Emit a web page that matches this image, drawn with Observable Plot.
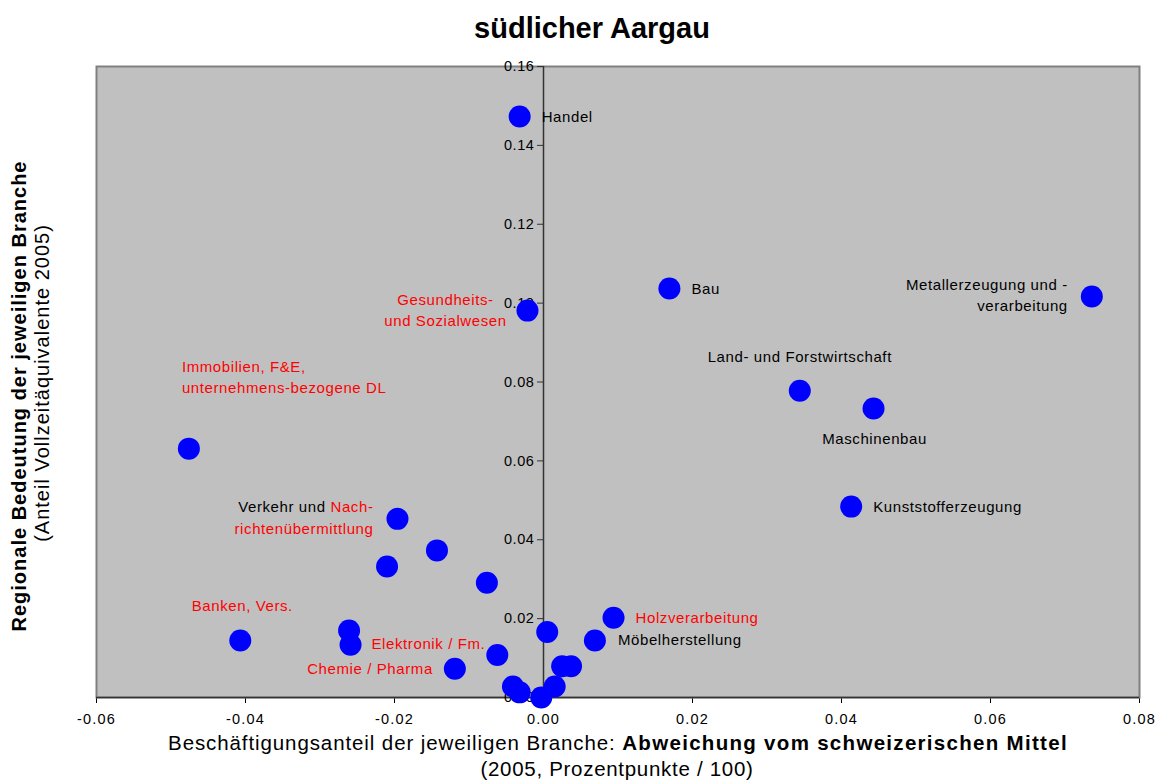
<!DOCTYPE html>
<html>
<head>
<meta charset="utf-8">
<script src="https://cdn.jsdelivr.net/npm/d3@7"></script>
<script src="https://cdn.jsdelivr.net/npm/@observablehq/plot@0.6"></script>
<style>
  body { margin: 0; background: #fff; font-family: "Liberation Sans", Arial, sans-serif; }
  #wrap { position: relative; width: 1163px; height: 781px; overflow: hidden; }
  #chart { position: absolute; left: 0; top: 0; }
  .t { position: absolute; white-space: nowrap; color: #000; transform: translate(-50%, -50%); }
  .rot { transform: translate(-50%, -50%) rotate(-90deg); }
</style>
</head>
<body>
<div id="wrap">
  <div id="chart"></div>
  <div class="t" style="left:592px; top:28px; font-size:29px; font-weight:bold;">südlicher Aargau</div>
  <div class="t" style="left:618px; top:743px; font-size:20.5px; letter-spacing:0.9px;">Beschäftigungsanteil der jeweiligen Branche: <b style="letter-spacing:1.3px">Abweichung vom schweizerischen Mittel</b></div>
  <div class="t" style="left:617px; top:769px; font-size:20.5px; letter-spacing:0.7px;">(2005, Prozentpunkte / 100)</div>
  <div class="t rot" style="left:19px; top:396px; font-size:20px; font-weight:bold; letter-spacing:1px;">Regionale Bedeutung der jeweiligen Branche</div>
  <div class="t rot" style="left:42px; top:383px; font-size:20px; letter-spacing:1px;">(Anteil Vollzeitäquivalente 2005)</div>
</div>
<script>
// ---- data ----
const branchen = [
  "Handel", "Gesundheits- und Sozialwesen", "Bau", "Metallerzeugung und -verarbeitung",
  "Land- und Forstwirtschaft", "Maschinenbau", "Kunststofferzeugung",
  "Immobilien, F&E, unternehmensbezogene DL", "Verkehr und Nachrichtenübermittlung",
  "B10", "B11", "B12", "Banken, Vers.", "B14", "B15", "Chemie / Pharma", "Elektronik / Fm.",
  "B18", "B19", "B20", "B21", "B22", "B23", "B24", "Möbelherstellung", "Holzverarbeitung"
];
const abweichung = [
  -0.0032, -0.00215, 0.0169, 0.0736,
  0.0344, 0.0443, 0.0413,
  -0.0476, -0.0196,
  -0.0143, -0.0210, -0.0076, -0.0407, -0.0261, -0.0259, -0.0119, -0.0062,
  -0.0041, -0.0032, -0.0003, 0.0005, 0.0015, 0.0025, 0.0037, 0.0069, 0.0094
];
const bedeutung = [
  0.1473, 0.0981, 0.1037, 0.1017,
  0.0778, 0.0733, 0.0484,
  0.0631, 0.0453,
  0.0373, 0.0332, 0.0291, 0.01445, 0.0170, 0.01336, 0.0073, 0.0108,
  0.0028, 0.0013, 0.0000, 0.0166, 0.0028, 0.0079, 0.0079, 0.01445, 0.0202
];
const xTicks = [-0.06, -0.04, -0.02, 0, 0.02, 0.04, 0.06, 0.08];
const yTicks = [0, 0.02, 0.04, 0.06, 0.08, 0.10, 0.12, 0.14, 0.16];

// label texts and colours (red = highlighted branches)
const labelTexts = [
  ["Handel", "Handel", "black"],
  ["Gesundheits- und Sozialwesen", "Gesundheits-\nund Sozialwesen", "red"],
  ["Bau", "Bau", "black"],
  ["Metallerzeugung und -verarbeitung", "Metallerzeugung und -\nverarbeitung", "black"],
  ["Land- und Forstwirtschaft", "Land- und Forstwirtschaft", "black"],
  ["Maschinenbau", "Maschinenbau", "black"],
  ["Kunststofferzeugung", "Kunststofferzeugung", "black"],
  ["Immobilien, F&E, unternehmensbezogene DL", "Immobilien, F&E,\nunternehmens-bezogene DL", "red"],
  ["Verkehr und Nachrichtenübermittlung", "Verkehr und Nach-\nrichtenübermittlung", "red"],
  ["Banken, Vers.", "Banken, Vers.", "red"],
  ["Elektronik / Fm.", "Elektronik / Fm.", "red"],
  ["Chemie / Pharma", "Chemie / Pharma", "red"],
  ["Holzverarbeitung", "Holzverarbeitung", "red"],
  ["Möbelherstellung", "Möbelherstellung", "black"]
];
// label placement relative to its point (pixels)
const labelPlacement = {
  "Handel": ["start", 22, -2],
  "Gesundheits- und Sozialwesen": ["middle", -82, -2],
  "Bau": ["start", 22, -2],
  "Metallerzeugung und -verarbeitung": ["end", -24, -3],
  "Land- und Forstwirtschaft": ["middle", 0, -36],
  "Maschinenbau": ["middle", 1, 29],
  "Kunststofferzeugung": ["start", 22, -2],
  "Immobilien, F&E, unternehmensbezogene DL": ["start", -7, -73],
  "Verkehr und Nachrichtenübermittlung": ["end", -24, -3],
  "Banken, Vers.": ["middle", 2, -36],
  "Elektronik / Fm.": ["end", -12, -13],
  "Chemie / Pharma": ["end", -22, -2],
  "Holzverarbeitung": ["start", 22, -2],
  "Möbelherstellung": ["start", 23, -2]
};

const points = branchen.map((b, i) => ({branche: b, x: abweichung[i], y: bedeutung[i]}));
const byName = new Map(points.map(p => [p.branche, p]));

const labelMarks = labelTexts.map(([name, text, color]) => {
  const [anchor, dx, dy] = labelPlacement[name];
  return Plot.text([byName.get(name)], {
    x: "x", y: "y", text: () => text,
    fill: color === "red" ? "#ff0000" : "#000000",
    textAnchor: anchor, dx, dy,
    fontSize: 15, lineHeight: 1.45, lineAnchor: "middle"
  });
});

const chart = Plot.plot({
  width: 1163,
  height: 781,
  marginLeft: 96,
  marginRight: 24,
  marginTop: 66,
  marginBottom: 84,
  style: {fontFamily: "'Liberation Sans', Arial, sans-serif", fontSize: "14.5px", background: "transparent", color: "#000"},
  x: {domain: [-0.06, 0.08], ticks: xTicks, tickFormat: d => d.toFixed(2), tickSize: 6, tickPadding: 10, label: null},
  y: {domain: [0, 0.16], axis: null},
  marks: [
    Plot.frame({fill: "#c0c0c0", stroke: "#808080", strokeWidth: 2}),
    Plot.ruleY([0], {stroke: "#333", strokeWidth: 1.5}),
    Plot.ruleX([0], {stroke: "#333", strokeWidth: 1.5}),
    Plot.ruleY(yTicks, {y: d => d, x1: 0, x2: 0, insetLeft: -6, stroke: "#333", strokeWidth: 1}),
    Plot.text(yTicks, {x: 0, y: d => d, text: d => d.toFixed(2), textAnchor: "end", dx: -9, fontSize: 14.5}),
    Plot.dot(points, {x: "x", y: "y", r: 11, fill: "#0000ff", stroke: null}),
    ...labelMarks
  ]
});
document.getElementById("chart").appendChild(chart);
chart.querySelectorAll("text").forEach(t => t.style.letterSpacing = "0.6px");
chart.querySelectorAll("g[aria-label='x-axis tick label'] text").forEach(t => t.style.letterSpacing = "1.2px");

// two-colour first line for "Verkehr und Nach-"
chart.querySelectorAll("tspan, text").forEach(el => {
  if (el.childNodes.length === 1 && el.textContent === "Verkehr und Nach-") {
    el.textContent = "";
    el.setAttribute("style", "white-space: pre; letter-spacing: 0.6px");
    const a = document.createElementNS("http://www.w3.org/2000/svg", "tspan");
    a.setAttribute("fill", "#000000");
    a.textContent = "Verkehr und ";
    const b = document.createElementNS("http://www.w3.org/2000/svg", "tspan");
    b.textContent = "Nach-";
    el.appendChild(a);
    el.appendChild(b);
  }
});
</script>
</body>
</html>
